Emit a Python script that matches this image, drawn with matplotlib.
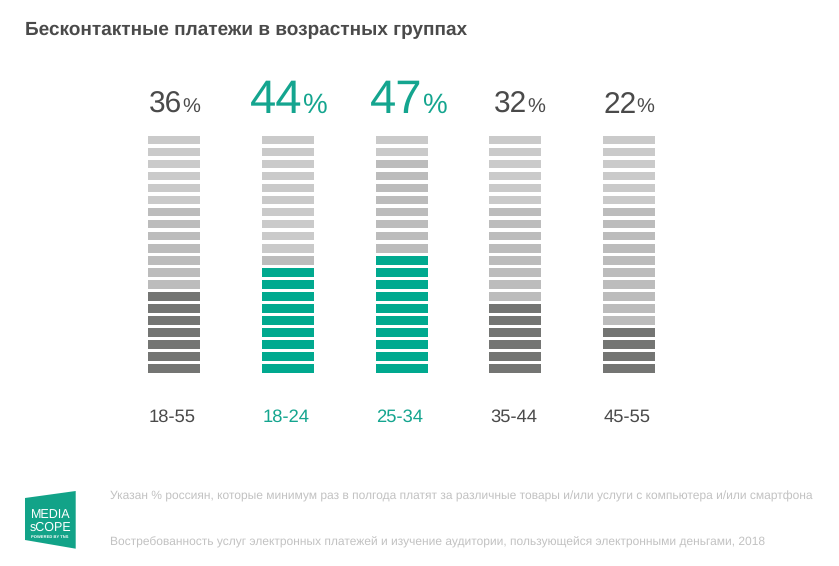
import matplotlib
matplotlib.use("Agg")
import matplotlib.pyplot as plt
from matplotlib.patches import Polygon

plt.rcParams['font.family'] = ['Liberation Sans', 'DejaVu Sans']
plt.rcParams['text.hinting'] = 'no_hinting'

# data
age_groups = ['18-55', '18-24', '25-34', '35-44', '45-55']
percents = [36, 44, 47, 32, 22]
filled_stripes = [7, 9, 10, 6, 4]     # coloured stripes out of 20, from the bottom
pale_top_stripes = [6, 10, 2, 6, 6]   # lightest grey stripes, from the top
highlighted = [False, True, True, False, False]
n_stripes = 20

title = 'Бесконтактные платежи в возрастных группах'
note = 'Указан % россиян, которые минимум раз в полгода платят за различные товары и/или услуги с компьютера и/или смартфона'
source = 'Востребованность услуг электронных платежей и изучение аудитории, пользующейся электронными деньгами, 2018'

# colours
TEAL = '#00a98f'
TEAL_TEXT = '#14a58f'
DARK = '#747573'
MID = '#bcbcbc'
PALE = '#cacaca'
TEXT = '#4a4a4a'
NOTE = '#c2c2c2'

W, H = 839, 566
fig = plt.figure(figsize=(W / 100, H / 100), dpi=100, facecolor='white')


def px(x, y):
    return x / W, 1 - y / H


# axes: one unit across = one column, one unit up = one stripe
col_pitch = 113.75
stripe_pitch = 12.03
left = 174 - col_pitch / 2
bottom = 372.8
top = bottom - n_stripes * stripe_pitch
ax = fig.add_axes([left / W, 1 - bottom / H, 5 * col_pitch / W, n_stripes * stripe_pitch / H])
ax.set_xlim(-0.5, 4.5)
ax.set_ylim(0, n_stripes)
ax.axis('off')

# number/percent split, px from column centre
split_dx = [8.5, 14.5, 20.5, 12, 7.5]

for i, group in enumerate(age_groups):
    for s in range(n_stripes):
        if s < filled_stripes[i]:
            color = TEAL if highlighted[i] else DARK
        elif s >= n_stripes - pale_top_stripes[i]:
            color = PALE
        else:
            color = MID
        ax.bar(i, 8.7 / stripe_pitch, bottom=s, width=52 / col_pitch, color=color, linewidth=0)

    big = highlighted[i]
    color = TEAL_TEXT if big else TEXT
    ax.annotate(str(percents[i]), (i, n_stripes), xytext=(split_dx[i] * 0.72, (top - 113) * 0.72),
                textcoords='offset points', ha='right', va='baseline',
                fontsize=34 if big else 21.5, color=color, annotation_clip=False)
    ax.annotate('%', (i, n_stripes), xytext=(split_dx[i] * 0.72, (top - 113) * 0.72),
                textcoords='offset points', ha='left', va='baseline',
                fontsize=20 if big else 14.5, color=color, annotation_clip=False)
    ax.annotate(group, (i, 0), xytext=(-1.5 * 0.72, (bottom - 421.5) * 0.72),
                textcoords='offset points', ha='center', va='baseline',
                fontsize=13.2, color=TEAL_TEXT if big else TEXT, annotation_clip=False)

# title and footnotes
x, y = px(25, 35)
fig.text(x, y, title, fontsize=13.72, fontweight='bold', color=TEXT, va='baseline')
x, y = px(110, 500)
fig.text(x, y, note, fontsize=8.65, color=NOTE, va='baseline')
x, y = px(110, 545.5)
fig.text(x, y, source, fontsize=8.65, color=NOTE, va='baseline')

# logo
logo = [px(25, 498), px(75.7, 491), px(75.7, 548.7), px(25, 540)]
fig.add_artist(Polygon(logo, closed=True, transform=fig.transFigure, facecolor='#12a388', edgecolor='none'))
x, y = px(50.5, 517.5)
fig.text(x, y, 'MEDIA', fontsize=9, color='white', ha='center', va='baseline')
x, y = px(50, 530.5)
fig.text(x, y, 'sCOPE', fontsize=9, color='white', ha='center', va='baseline')
x, y = px(49.5, 538)
fig.text(x, y, 'POWERED BY TNS', fontsize=3, color='white', ha='center', va='baseline', fontweight='bold')

fig.savefig('out.png', dpi=100, facecolor='white')
